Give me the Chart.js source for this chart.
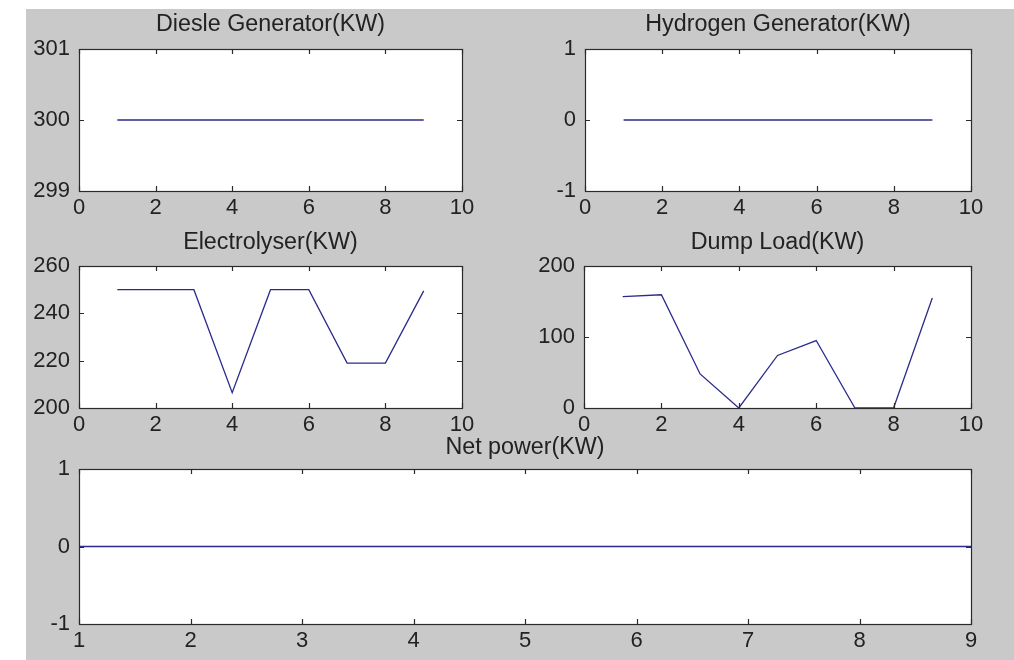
<!DOCTYPE html>
<html><head><meta charset="utf-8">
<script src="https://cdn.jsdelivr.net/npm/chart.js@4.4.1/dist/chart.umd.min.js"></script>
<style>
html,body{margin:0;padding:0;background:#fff;width:1014px;height:660px;overflow:hidden;}
#fig{position:absolute;left:26px;top:9px;width:988px;height:651px;background:#c9c9c9;}
canvas{position:absolute;}
</style></head><body>
<div id="fig"></div>
<canvas id="cDiesel"></canvas>
<canvas id="cHydrogen"></canvas>
<canvas id="cElectro"></canvas>
<canvas id="cDump"></canvas>
<canvas id="cNet"></canvas>
<script>
// ---- data ----
const steps = [1, 2, 3, 4, 5, 6, 7, 8, 9];
const dieselKW = [300, 300, 300, 300, 300, 300, 300, 300, 300];
const hydrogenKW = [0, 0, 0, 0, 0, 0, 0, 0, 0];
const electrolyserKW = [250, 250, 250, 206.5, 250, 250, 219, 219, 249.5];
const dumpLoadKW = [157, 159.5, 48, 0, 74, 95, 0, 0, 155];
const netPowerKW = [0, 0, 0, 0, 0, 0, 0, 0, 0];

const xTicksTop = [0, 2, 4, 6, 8, 10];
const xTicksNet = [1, 2, 3, 4, 5, 6, 7, 8, 9];
const yTicksDiesel = [299, 300, 301];
const yTicksHydrogen = [-1, 0, 1];
const yTicksElectro = [200, 220, 240, 260];
const yTicksDump = [0, 100, 200];
const yTicksNet = [-1, 0, 1];

const titles = ['Diesle Generator(KW)', 'Hydrogen Generator(KW)', 'Electrolyser(KW)', 'Dump Load(KW)', 'Net power(KW)'];

// ---- style / layout ----
const FONT = "'Liberation Sans', Arial, sans-serif";
const FS = 22;
const TFS = 23.3;
const TEXT = '#222222';
const LINE = '#2b2b8c';
const FRAME = '#2a2a2a';
const L = 70, R = 30, B = 40, T = 50;

const framePlugin = {
  id: 'matlabFrame',
  beforeDraw(chart) {
    const a = chart.chartArea, ctx = chart.ctx;
    ctx.save();
    ctx.fillStyle = '#ffffff';
    ctx.fillRect(a.left, a.top, a.right - a.left, a.bottom - a.top);
    ctx.restore();
  },
  afterDraw(chart) {
    const a = chart.chartArea, ctx = chart.ctx;
    const xs = chart.scales.x, ys = chart.scales.y;
    ctx.save();
    ctx.strokeStyle = FRAME;
    ctx.lineWidth = 1.2;
    ctx.beginPath();
    const tl = 5;
    xs.ticks.forEach(t => {
      const p = Math.round(xs.getPixelForValue(t.value)) + 0.5;
      ctx.moveTo(p, a.bottom); ctx.lineTo(p, a.bottom - tl);
      ctx.moveTo(p, a.top); ctx.lineTo(p, a.top + tl);
    });
    ys.ticks.forEach(t => {
      const p = Math.round(ys.getPixelForValue(t.value)) + 0.5;
      ctx.moveTo(a.left, p); ctx.lineTo(a.left + tl, p);
      ctx.moveTo(a.right, p); ctx.lineTo(a.right - tl, p);
    });
    ctx.stroke();
    ctx.strokeRect(Math.round(a.left) + 0.5, Math.round(a.top) + 0.5,
                   Math.round(a.right - a.left), Math.round(a.bottom - a.top));
    ctx.restore();
  }
};

function makePlot(id, box, titleText, xs, ys, xTicks, yTicks, titleGap) {
  const canvas = document.getElementById(id);
  const w = box.r - box.l + L + R, h = box.b - box.t + T + B;
  canvas.width = w; canvas.height = h;
  canvas.style.width = w + 'px'; canvas.style.height = h + 'px';
  canvas.style.left = (box.l - L) + 'px'; canvas.style.top = (box.t - T) + 'px';
  const lh = TFS * 1.2;
  const pt = T - titleGap - lh / 2;
  const pb = T - lh - pt;
  const tickFont = { family: FONT, size: FS };
  new Chart(canvas, {
    type: 'line',
    data: { datasets: [{
      data: xs.map((x, i) => ({ x: x, y: ys[i] })),
      borderColor: LINE, borderWidth: 1.3, pointRadius: 0, fill: false, tension: 0
    }] },
    options: {
      responsive: false, animation: false, devicePixelRatio: 1,
      layout: { padding: { left: 0, right: R, top: 0, bottom: 0 } },
      plugins: {
        legend: { display: false }, tooltip: { enabled: false },
        title: { display: true, text: titleText, fullSize: false, color: TEXT,
                 font: { family: FONT, size: TFS, weight: 'normal' },
                 padding: { top: pt, bottom: pb } }
      },
      scales: {
        x: {
          type: 'linear', min: xTicks[0], max: xTicks[xTicks.length - 1],
          afterBuildTicks: s => { s.ticks = xTicks.map(v => ({ value: v })); },
          afterFit: s => { s.height = B; },
          grid: { display: false, drawTicks: false }, border: { display: false },
          ticks: { padding: 4, color: TEXT, font: tickFont, maxRotation: 0, autoSkip: false }
        },
        y: {
          type: 'linear', min: yTicks[0], max: yTicks[yTicks.length - 1],
          afterBuildTicks: s => { s.ticks = yTicks.map(v => ({ value: v })); },
          afterFit: s => { s.width = L; },
          grid: { display: false, drawTicks: false }, border: { display: false },
          ticks: { padding: 9, color: TEXT, font: tickFont, autoSkip: false }
        }
      }
    },
    plugins: [framePlugin]
  });
}

makePlot('cDiesel',   { l: 79,  t: 49,  r: 462, b: 191 }, titles[0], steps, dieselKW,       xTicksTop, yTicksDiesel,   24.5);
makePlot('cHydrogen', { l: 585, t: 49,  r: 971, b: 191 }, titles[1], steps, hydrogenKW,     xTicksTop, yTicksHydrogen, 24.5);
makePlot('cElectro',  { l: 79,  t: 266, r: 462, b: 408 }, titles[2], steps, electrolyserKW, xTicksTop, yTicksElectro,  23);
makePlot('cDump',     { l: 584, t: 266, r: 971, b: 408 }, titles[3], steps, dumpLoadKW,     xTicksTop, yTicksDump,     23);
makePlot('cNet',      { l: 79,  t: 469, r: 971, b: 624 }, titles[4], steps, netPowerKW,     xTicksNet, yTicksNet,      21.5);
</script>
</body></html>
